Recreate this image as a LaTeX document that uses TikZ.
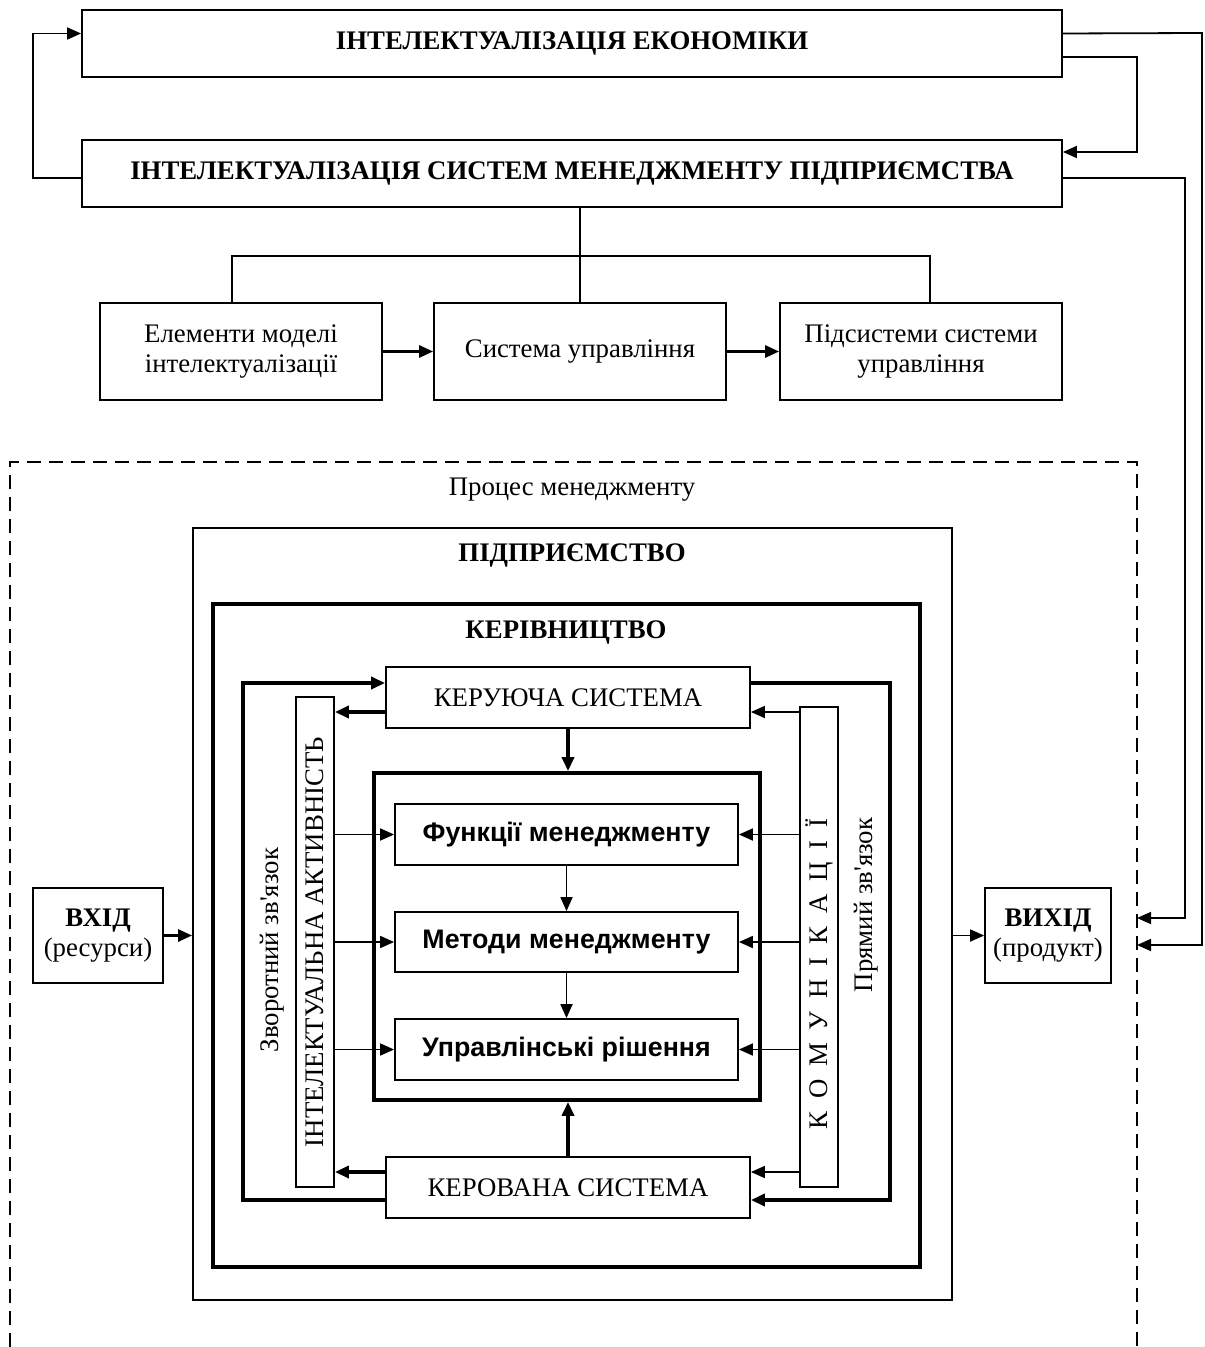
\documentclass[tikz,border=0pt]{standalone}
\usepackage{fontspec}
\setmainfont{Liberation Serif}
\newfontfamily\arialf{Liberation Sans}
\usetikzlibrary{arrows.meta,calc}
\newcommand\lsp{\hspace{0.48em}}
\newcommand\apos{{\addfontfeatures{Ligatures=TeXOff}'}}
\begin{document}
\begin{tikzpicture}[x=0.5pt,y=-0.5pt,
  every node/.style={font=\fontsize{13.4}{15}\selectfont},
  box/.style={draw, line width=0.9pt, inner sep=0pt, align=center},
  tbox/.style={box, line width=1.9pt},
  fbox/.style={box, font=\arialf\bfseries\fontsize{13.4}{15}\selectfont},
  thinln/.style={line width=0.9pt},
  medln/.style={line width=1.4pt},
  thickln/.style={line width=1.9pt},
  arr/.style={-{Triangle[length=7pt,width=6pt]}},
  dashbox/.style={line width=0.9pt, dash pattern=on 7pt off 4pt}]
\useasboundingbox (0,0) rectangle (1204,1347);

% top boxes
\node[box, minimum width=490pt, minimum height=33.5pt] (eco) at (572,43.5)
  {\raisebox{3pt}{\textbf{ІНТЕЛЕКТУАЛІЗАЦІЯ ЕКОНОМІКИ}}};
\node[box, minimum width=490pt, minimum height=33.5pt] (mgmt) at (572,173.5)
  {\raisebox{3pt}{\textbf{ІНТЕЛЕКТУАЛІЗАЦІЯ СИСТЕМ МЕНЕДЖМЕНТУ ПІДПРИЄМСТВА}}};

\node[box, minimum width=141pt, minimum height=48.5pt] (elem) at (241,351.5) {Елементи моделі\\інтелектуалізації};
\node[box, minimum width=146pt, minimum height=48.5pt] (sys) at (580,351.5) {Система управління};
\node[box, minimum width=141pt, minimum height=48.5pt] (podsys) at (921,351.5) {Підсистеми системи\\управління};

% loops at top
\coordinate (e1) at ($(eco.west)+(0,-10)$);
\coordinate (m1) at ($(mgmt.west)+(0,4.5)$);
\draw[thinln, arr] (m1) -- (33,178) |- (e1);

\coordinate (e2) at ($(eco.east)+(0,-10)$);
\coordinate (e3) at ($(eco.east)+(0,13.5)$);
\coordinate (m2) at ($(mgmt.east)+(0,-21.5)$);
\coordinate (m3) at ($(mgmt.east)+(0,4.5)$);
\draw[thinln, arr] (e3) -- (1137,57) |- (m2);

% tree
\draw[thinln] (sys.north |- mgmt.south) -- (sys.north);
\draw[thinln] ($(elem.north)+(-9,0)$) -- (232,256) -- (930,256) -- ($(podsys.north)+(9,0)$);
\draw[medln, arr] (elem.east) -- (sys.west);
\draw[medln, arr] (sys.east) -- (podsys.west);

% dashed process box
\draw[dashbox] (10,1347) -- (10,462) -- (1137,462) -- (1137,1347);
\coordinate (outA) at (1137,918);
\coordinate (outB) at (1137,945);
\draw[thinln, arr] (m3) -- (1185,178) |- (outA);
\draw[thinln, arr] (e2) -- (1202,33) |- (outB);
\node (proc) at (572,490) {Процес менеджменту};

% enterprise
\node[box, minimum width=379.5pt, minimum height=386pt] (pidpr) at (572.5,914) {};
\node (pidprt) at (572,555) {\textbf{ПІДПРИЄМСТВО}};
\node[tbox, minimum width=353.5pt, minimum height=331.5pt] (kerivn) at (566.5,935.5) {};
\node (kerivnt) at (566,632) {\textbf{КЕРІВНИЦТВО}};

\node[box, minimum width=182pt, minimum height=30.5pt] (keru) at (568,697.5) {КЕРУЮЧА СИСТЕМА};
\node[box, minimum width=182pt, minimum height=30.5pt] (kerv) at (568,1187.5) {КЕРОВАНА СИСТЕМА};

\node[box, minimum width=19pt, minimum height=245pt] (ia) at (315,942) {\rotatebox{90}{ІНТЕЛЕКТУАЛЬНА АКТИВНІСТЬ}};
\node[box, minimum width=19pt, minimum height=240pt] (kom) at (819,947)
  {\rotatebox{90}{К\lsp О\lsp М\lsp У\lsp Н\lsp І\lsp К\lsp А\lsp Ц\lsp І\lsp Ї\hspace{27pt}}};

\node (zvor) at (272,950) {\rotatebox{90}{Зворотний зв\apos язок}};
\node (pryam) at (866,905) {\rotatebox{90}{Прямий зв\apos язок}};

\node[tbox, minimum width=193pt, minimum height=163.5pt] (inner) at (567,936.5) {};
\node[fbox, minimum width=171.5pt, minimum height=30.5pt] (f1) at (566.5,834.5) {Функції менеджменту};
\node[fbox, minimum width=171.5pt, minimum height=30pt] (f2) at (566.5,942) {Методи менеджменту};
\node[fbox, minimum width=171.5pt, minimum height=30.5pt] (f3) at (566.5,1049.5) {Управлінські рішення};

% feedback loop
\coordinate (kuL) at ($(keru.west)+(0,-14.5)$);
\coordinate (kuR) at ($(keru.east)+(0,-14.5)$);
\coordinate (kvL) at ($(kerv.west)+(0,12.5)$);
\coordinate (kvR) at ($(kerv.east)+(0,12.5)$);
\draw[thickln, arr] (kvL) -- (243,1200) |- (kuL);
\draw[thickln, arr] (kuR) -- (890,683) |- (kvR);

\coordinate (k1) at ($(keru.west)+(0,14.5)$);
\coordinate (k2) at ($(kerv.west)+(0,-15.5)$);
\draw[thickln, arr] (k1) -- (k1 -| ia.east);
\draw[thickln, arr] (k2) -- (k2 -| ia.east);
\draw[thinln, arr] (kom.west |- k1) -- (keru.east |- k1);
\draw[thinln, arr] (kom.west |- k2) -- (kerv.east |- k2);

\draw[thickln, arr] (keru.south) -- (keru.south |- inner.north);
\draw[thickln, arr] (kerv.north) -- (kerv.north |- inner.south);
\draw[thinln, arr] (f1.south) -- (f2.north);
\draw[thinln, arr] (f2.south) -- (f3.north);

\foreach \f in {f1,f2,f3}{
  \draw[thinln, arr] (\f.west -| ia.east) -- (\f.west);
  \draw[thinln, arr] (\f.east -| kom.west) -- (\f.east);
}

% input / output
\node[box, minimum width=65pt, minimum height=47.5pt] (vhid) at (98,935.5) {\textbf{ВХІД}\\(ресурси)};
\node[box, minimum width=63pt, minimum height=47.5pt] (vyhid) at (1048,935.5) {\textbf{ВИХІД}\\(продукт)};
\draw[medln, arr] (vhid.east) -- (vhid.east -| pidpr.west);
\draw[thinln, arr] (vyhid.west -| pidpr.east) -- (vyhid.west);
\end{tikzpicture}
\end{document}
